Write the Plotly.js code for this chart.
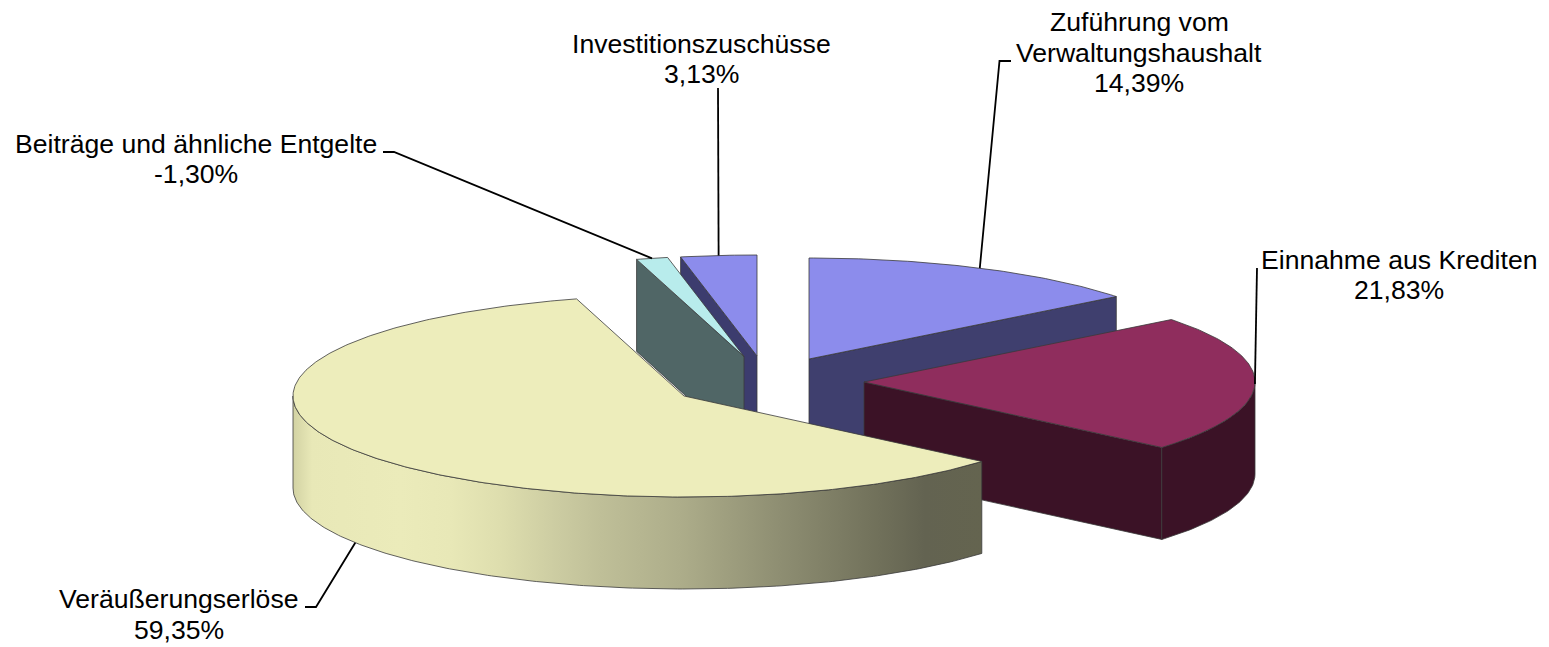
<!DOCTYPE html>
<html><head><meta charset="utf-8">
<script src="https://cdn.plot.ly/plotly-3.0.1.min.js"></script>
<style>html,body{margin:0;padding:0;background:#fff}#c{width:1549px;height:647px}</style>
</head><body><div id="c"></div>
<script>
// ---- data ----
const categories = ["Zuführung vom<br>Verwaltungshaushalt","Einnahme aus Krediten","Veräußerungserlöse","Beiträge und ähnliche Entgelte","Investitionszuschüsse"];
const shares = [14.39, 21.83, 59.35, -1.30, 3.13];

// ---- chart geometry & style ----
const W = 1549, H = 647, RX = 391, RY = 101, DEPTH = 92, LINE = 30.8;
const apexX = [809, 864, 684, 744, 757];
const apexY = [359, 382, 396, 356.5, 356];
const topColor = ["#8C8CEC","#8F2D5D","#EDEDBB","#B8ECEC","#8C8CEC"];
const sideColor = ["#3F3F6E","#3B1226","#C5C59B","#506666","#3C3C6E"];
const drawOrder = [0, 4, 3, 1, 2];
const labelX = [1139, 1399, 179, 196, 701];
const labelY = [52.5, 275, 614.5, 159, 59];
const elbows = [[[1011,61],[999.5,61]], [[1257,268]], [[305,607],[316,607]], [[383,152],[394,152]], [[718,88]]];
const rimGradient = [[293,"#D2D2A3"],[312,"#E8E8B7"],[400,"#EBEBBA"],[450,"#E8E8B7"],[500,"#DEDEAE"],[560,"#CBCBA1"],[600,"#BFBF98"],[680,"#ADAD8A"],[780,"#8E8E72"],[880,"#70705A"],[925,"#636351"],[982,"#64644F"]];
const FONT = {family:'"Liberation Sans", Arial, sans-serif', size:26.6, color:'#000'};
const rad = d => d * Math.PI / 180;

const total = shares.reduce((s,v)=>s+Math.abs(v),0);
let acc = 0;
const slices = shares.map((v,i)=>{ const a0 = acc/total*360; acc += Math.abs(v); return {i, a0, a1: acc/total*360}; });

const pt = (i,a,z) => [apexX[i] + RX*Math.sin(rad(a)), apexY[i] - RY*Math.cos(rad(a)) + z*DEPTH];
const arc = (i,a0,a1,z) => { const n = Math.max(2, Math.ceil(Math.abs(a1-a0)*1.5)), o = [];
  for (let k=0;k<=n;k++) o.push(pt(i, a0+(a1-a0)*k/n, z)); return o; };
const poly = (pts, color, extra) => Object.assign({
  type:'scatter', mode:'lines', x:pts.map(p=>p[0]), y:pts.map(p=>p[1]), fill:'toself', fillcolor:color,
  line:{color:'#3a3a3a', width:0.8}, hoverinfo:'skip', showlegend:false }, extra||{});

const traces = [];
drawOrder.forEach(i=>{
  const s = slices[i], side = sideColor[i];
  const apex0 = [apexX[i], apexY[i]], apex1 = [apexX[i], apexY[i]+DEPTH];
  [[s.a0, Math.sin(rad(s.a0))<-1e-6],[s.a1, Math.sin(rad(s.a1))>1e-6]].forEach(([a,vis])=>{
    if (vis) traces.push(poly([apex0, pt(i,a,0), pt(i,a,1), apex1, apex0], side));
  });
  const r0 = Math.max(s.a0,90), r1 = Math.min(s.a1,270);
  if (r1 > r0) {
    const pts = arc(i,r0,r1,0).concat(arc(i,r1,r0,1)); pts.push(pts[0]);
    const extra = {};
    if (i === 2) {
      const lo = rimGradient[0][0], hi = rimGradient[rimGradient.length-1][0];
      extra.fillgradient = {type:'horizontal', start:lo, stop:hi,
        colorscale: rimGradient.map(g=>[(g[0]-lo)/(hi-lo), g[1]])};
    }
    traces.push(poly(pts, side, extra));
  }
  const top = [apex0].concat(arc(i,s.a0,s.a1,0)); top.push(apex0);
  traces.push(poly(top, topColor[i]));
});

// leader lines end at each slice's mid angle
slices.forEach(s=>{
  const mid = (s.a0+s.a1)/2, i = s.i;
  const end = pt(i, mid, i===2 ? 1 : 0);
  const pts = elbows[i].concat([end]);
  traces.push({type:'scatter', mode:'lines', x:pts.map(p=>p[0]), y:pts.map(p=>p[1]),
    line:{color:'#000', width:1.8}, hoverinfo:'skip', showlegend:false});
});

const pctText = v => v.toFixed(2).replace('.',',') + '%';
const annotations = [];
categories.forEach((c,i)=>{
  const lines = c.split('<br>').concat([pctText(shares[i])]);
  lines.forEach((t,k)=>annotations.push({
    xref:'x', yref:'y', x:labelX[i], y:labelY[i]+(k-(lines.length-1)/2)*LINE, text:t,
    showarrow:false, xanchor:'center', yanchor:'middle', align:'center', font:FONT }));
});

Plotly.newPlot('c', traces, {
  width:W, height:H, margin:{l:0,r:0,t:0,b:0}, paper_bgcolor:'#fff', plot_bgcolor:'#fff',
  xaxis:{range:[0,W], visible:false, fixedrange:true},
  yaxis:{range:[H,0], visible:false, fixedrange:true},
  showlegend:false, annotations
}, {displayModeBar:false, staticPlot:true});
</script></body></html>
